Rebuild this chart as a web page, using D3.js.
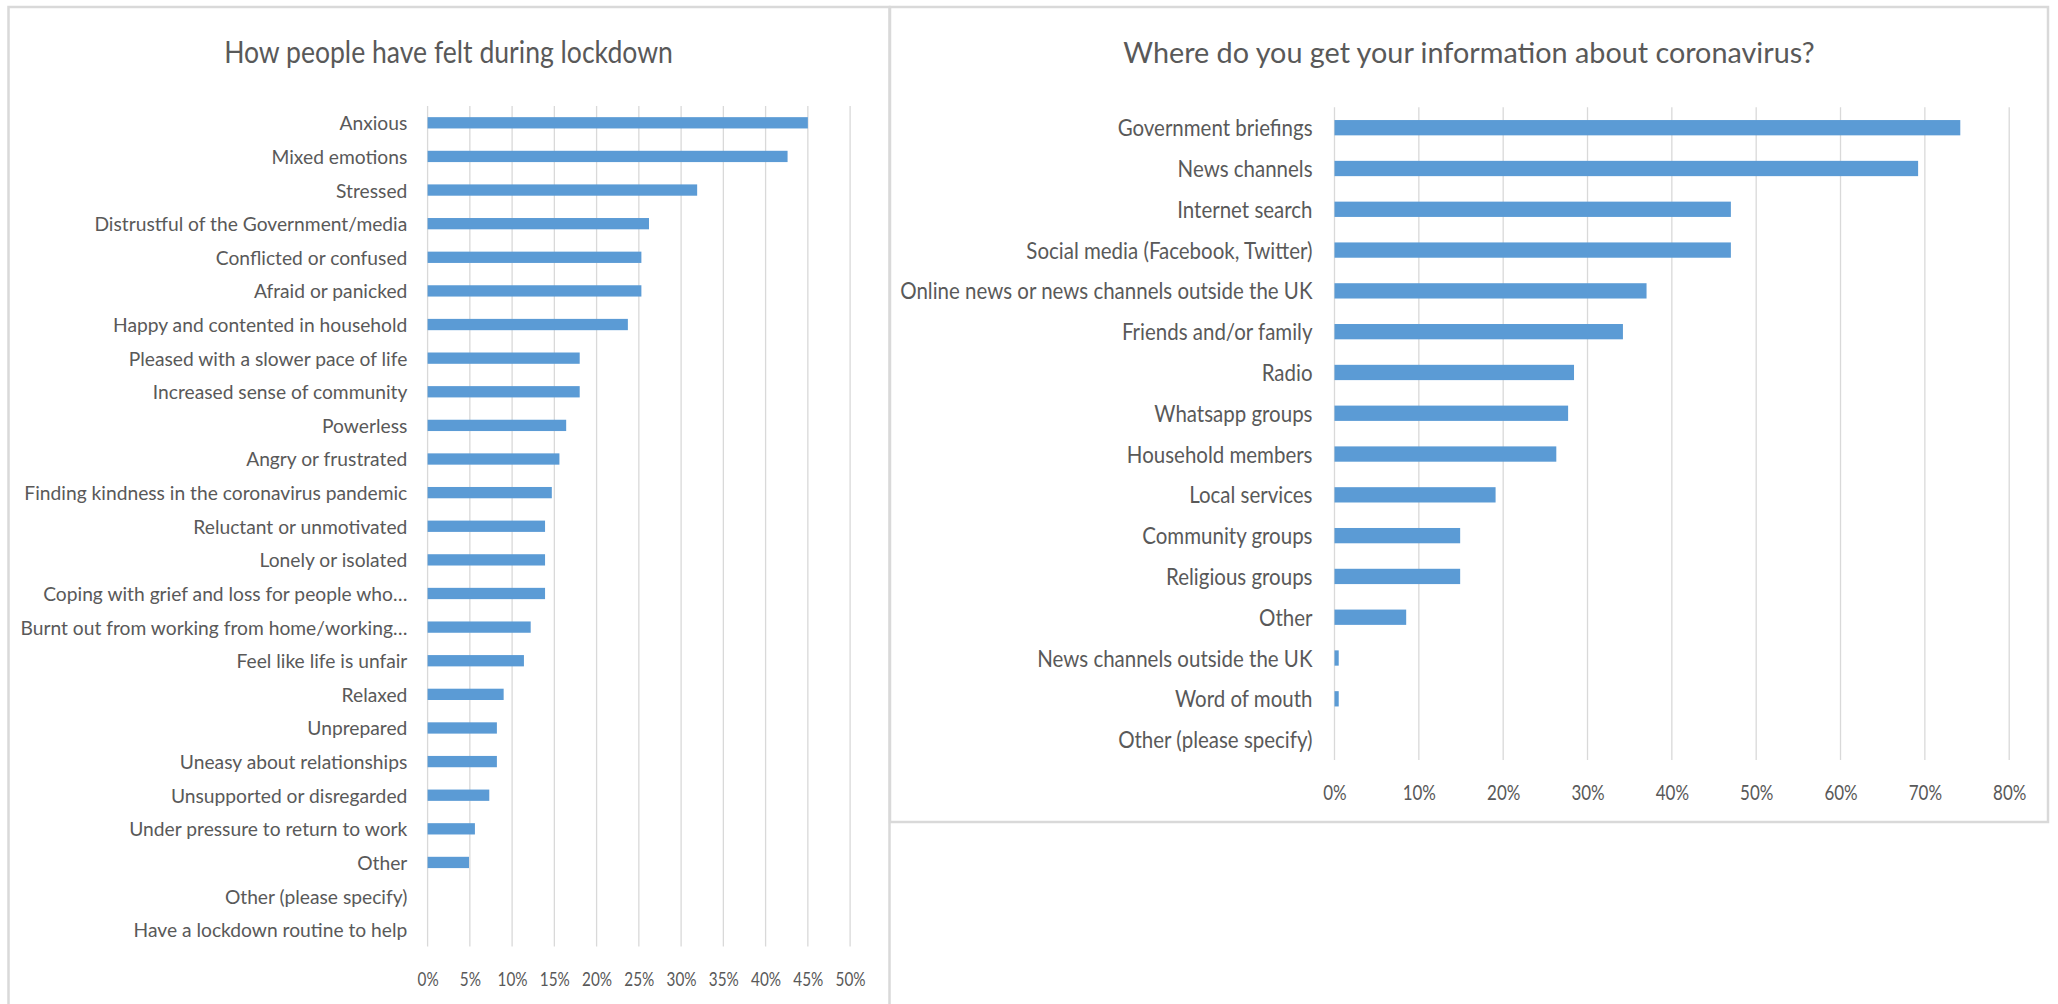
<!DOCTYPE html>
<html><head><meta charset="utf-8">
<script src="https://cdn.jsdelivr.net/npm/d3@7"></script>
<style>
html,body{margin:0;padding:0;background:#fff;}
svg{display:block;}
text{font-family:Lato,"Open Sans",sans-serif;fill:#595959;}
</style></head><body>
<svg id="chart" width="2058" height="1004"></svg>
<script>
// ---------- DATA ----------
const feelingsTitle = "How people have felt during lockdown";
const feelingsCategories = [
  "Anxious","Mixed emotions","Stressed","Distrustful of the Government/media",
  "Conflicted or confused","Afraid or panicked","Happy and contented in household",
  "Pleased with a slower pace of life","Increased sense of community","Powerless",
  "Angry or frustrated","Finding kindness in the coronavirus pandemic",
  "Reluctant or unmotivated","Lonely or isolated","Coping with grief and loss for people who…",
  "Burnt out from working from home/working…","Feel like life is unfair","Relaxed",
  "Unprepared","Uneasy about relationships","Unsupported or disregarded",
  "Under pressure to return to work","Other","Other (please specify)",
  "Have a lockdown routine to help"
];
const feelingsValues = [45.0,42.6,31.9,26.2,25.3,25.3,23.7,18.0,18.0,16.4,15.6,14.7,13.9,13.9,13.9,12.2,11.4,9.0,8.2,8.2,7.3,5.6,4.9,0,0];
const feelingsTicks = [0,5,10,15,20,25,30,35,40,45,50];

const infoTitle = "Where do you get your information about coronavirus?";
const infoCategories = [
  "Government briefings","News channels","Internet search","Social media (Facebook, Twitter)",
  "Online news or news channels outside the UK","Friends and/or family","Radio",
  "Whatsapp groups","Household members","Local services","Community groups",
  "Religious groups","Other","News channels outside the UK","Word of mouth",
  "Other (please specify)"
];
const infoValues = [74.2,69.2,47.0,47.0,37.0,34.2,28.4,27.7,26.3,19.1,14.9,14.9,8.5,0.5,0.5,0];
const infoTicks = [0,10,20,30,40,50,60,70,80];

// ---------- LAYOUT / STYLE ----------
const BAR = "#5B9BD5", GRID = "#D9D9D9", BORDER = "#D9D9D9";
const svg = d3.select("#chart");

function measure(str, size) {
  const t = svg.append("text").style("font-size", size + "px").text(str);
  const w = t.node().getComputedTextLength();
  t.remove();
  return w;
}
const CAP = 0.7165; // Lato cap height ratio

function drawChart(cfg) {
  const x = d3.scaleLinear().domain([cfg.ticks[0], cfg.ticks[cfg.ticks.length - 1]]).range([cfg.x0, cfg.x1]);
  const y = d3.scaleBand().domain(cfg.categories).range([cfg.y0, cfg.y1])
    .paddingInner(cfg.pad).paddingOuter(cfg.pad / 2);

  const g = svg.append("g");

  // gridlines
  g.append("g").selectAll("line").data(cfg.ticks).join("line")
    .attr("x1", d => x(d)).attr("x2", d => x(d))
    .attr("y1", cfg.y0).attr("y2", cfg.y1)
    .attr("stroke", GRID).attr("stroke-width", 1.3);

  // bars
  g.append("g").selectAll("rect").data(cfg.values).join("rect")
    .attr("x", x(0))
    .attr("y", (d, i) => y(cfg.categories[i]))
    .attr("width", d => x(d) - x(0))
    .attr("height", y.bandwidth())
    .attr("fill", BAR);

  // category axis
  const sxL = cfg.labelTarget / measure(cfg.labelRef, cfg.labelSize);
  const ya = g.append("g").attr("transform", `translate(${cfg.x0},0)`)
    .call(d3.axisLeft(y).tickSize(0).tickPadding(0));
  ya.select(".domain").remove();
  ya.selectAll("text")
    .attr("x", null).attr("dy", null).attr("y", null)
    .attr("fill", "#595959")
    .style("font-family", "Lato, 'Open Sans', sans-serif")
    .style("font-size", cfg.labelSize + "px")
    .attr("text-anchor", "end")
    .attr("transform", `translate(${cfg.labelX - cfg.x0},${cfg.labelSize * CAP / 2 + 0.3}) scale(${sxL},1)`);

  // value axis
  const sxT = cfg.tickTarget / measure("50%", cfg.tickSize);
  const xa = g.append("g").attr("transform", `translate(0,${cfg.tickY})`)
    .call(d3.axisBottom(x).tickValues(cfg.ticks).tickFormat(d => d + "%").tickSize(0).tickPadding(0));
  xa.select(".domain").remove();
  xa.selectAll("text")
    .attr("y", null).attr("dy", null)
    .attr("fill", "#595959")
    .style("font-family", "Lato, 'Open Sans', sans-serif")
    .style("font-size", cfg.tickSize + "px")
    .attr("transform", `scale(${sxT},1)`);

  // title
  const sxTitle = cfg.titleTarget / measure(cfg.title, cfg.titleSize);
  g.append("text")
    .attr("text-anchor", "middle")
    .style("font-size", cfg.titleSize + "px")
    .attr("transform", `translate(${cfg.titleX},${cfg.titleY}) scale(${sxTitle},1)`)
    .text(cfg.title);
}

// panel frames
svg.append("rect").attr("x", 8.5).attr("y", 7).attr("width", 881).attr("height", 1010)
  .attr("fill", "none").attr("stroke", BORDER).attr("stroke-width", 2.5);
svg.append("rect").attr("x", 890).attr("y", 7).attr("width", 1158).attr("height", 815)
  .attr("fill", "none").attr("stroke", BORDER).attr("stroke-width", 2.5);

drawChart({
  title: feelingsTitle, categories: feelingsCategories, values: feelingsValues, ticks: feelingsTicks,
  x0: 427.6, x1: 850.1, y0: 106, y1: 946.5, pad: 0.664,
  labelX: 407.3, labelSize: 20, labelRef: "Distrustful of the Government/media", labelTarget: 313,
  tickY: 986, tickSize: 20, tickTarget: 30,
  titleX: 448.5, titleY: 62.7, titleSize: 30, titleTarget: 449
});

drawChart({
  title: infoTitle, categories: infoCategories, values: infoValues, ticks: infoTicks,
  x0: 1334.5, x1: 2009.2, y0: 107.3, y1: 760, pad: 0.625,
  labelX: 1312.5, labelSize: 23, labelRef: "Government briefings", labelTarget: 195,
  tickY: 800, tickSize: 22, tickTarget: 33.3,
  titleX: 1469, titleY: 63.3, titleSize: 29, titleTarget: 692
});
</script>
</body></html>
